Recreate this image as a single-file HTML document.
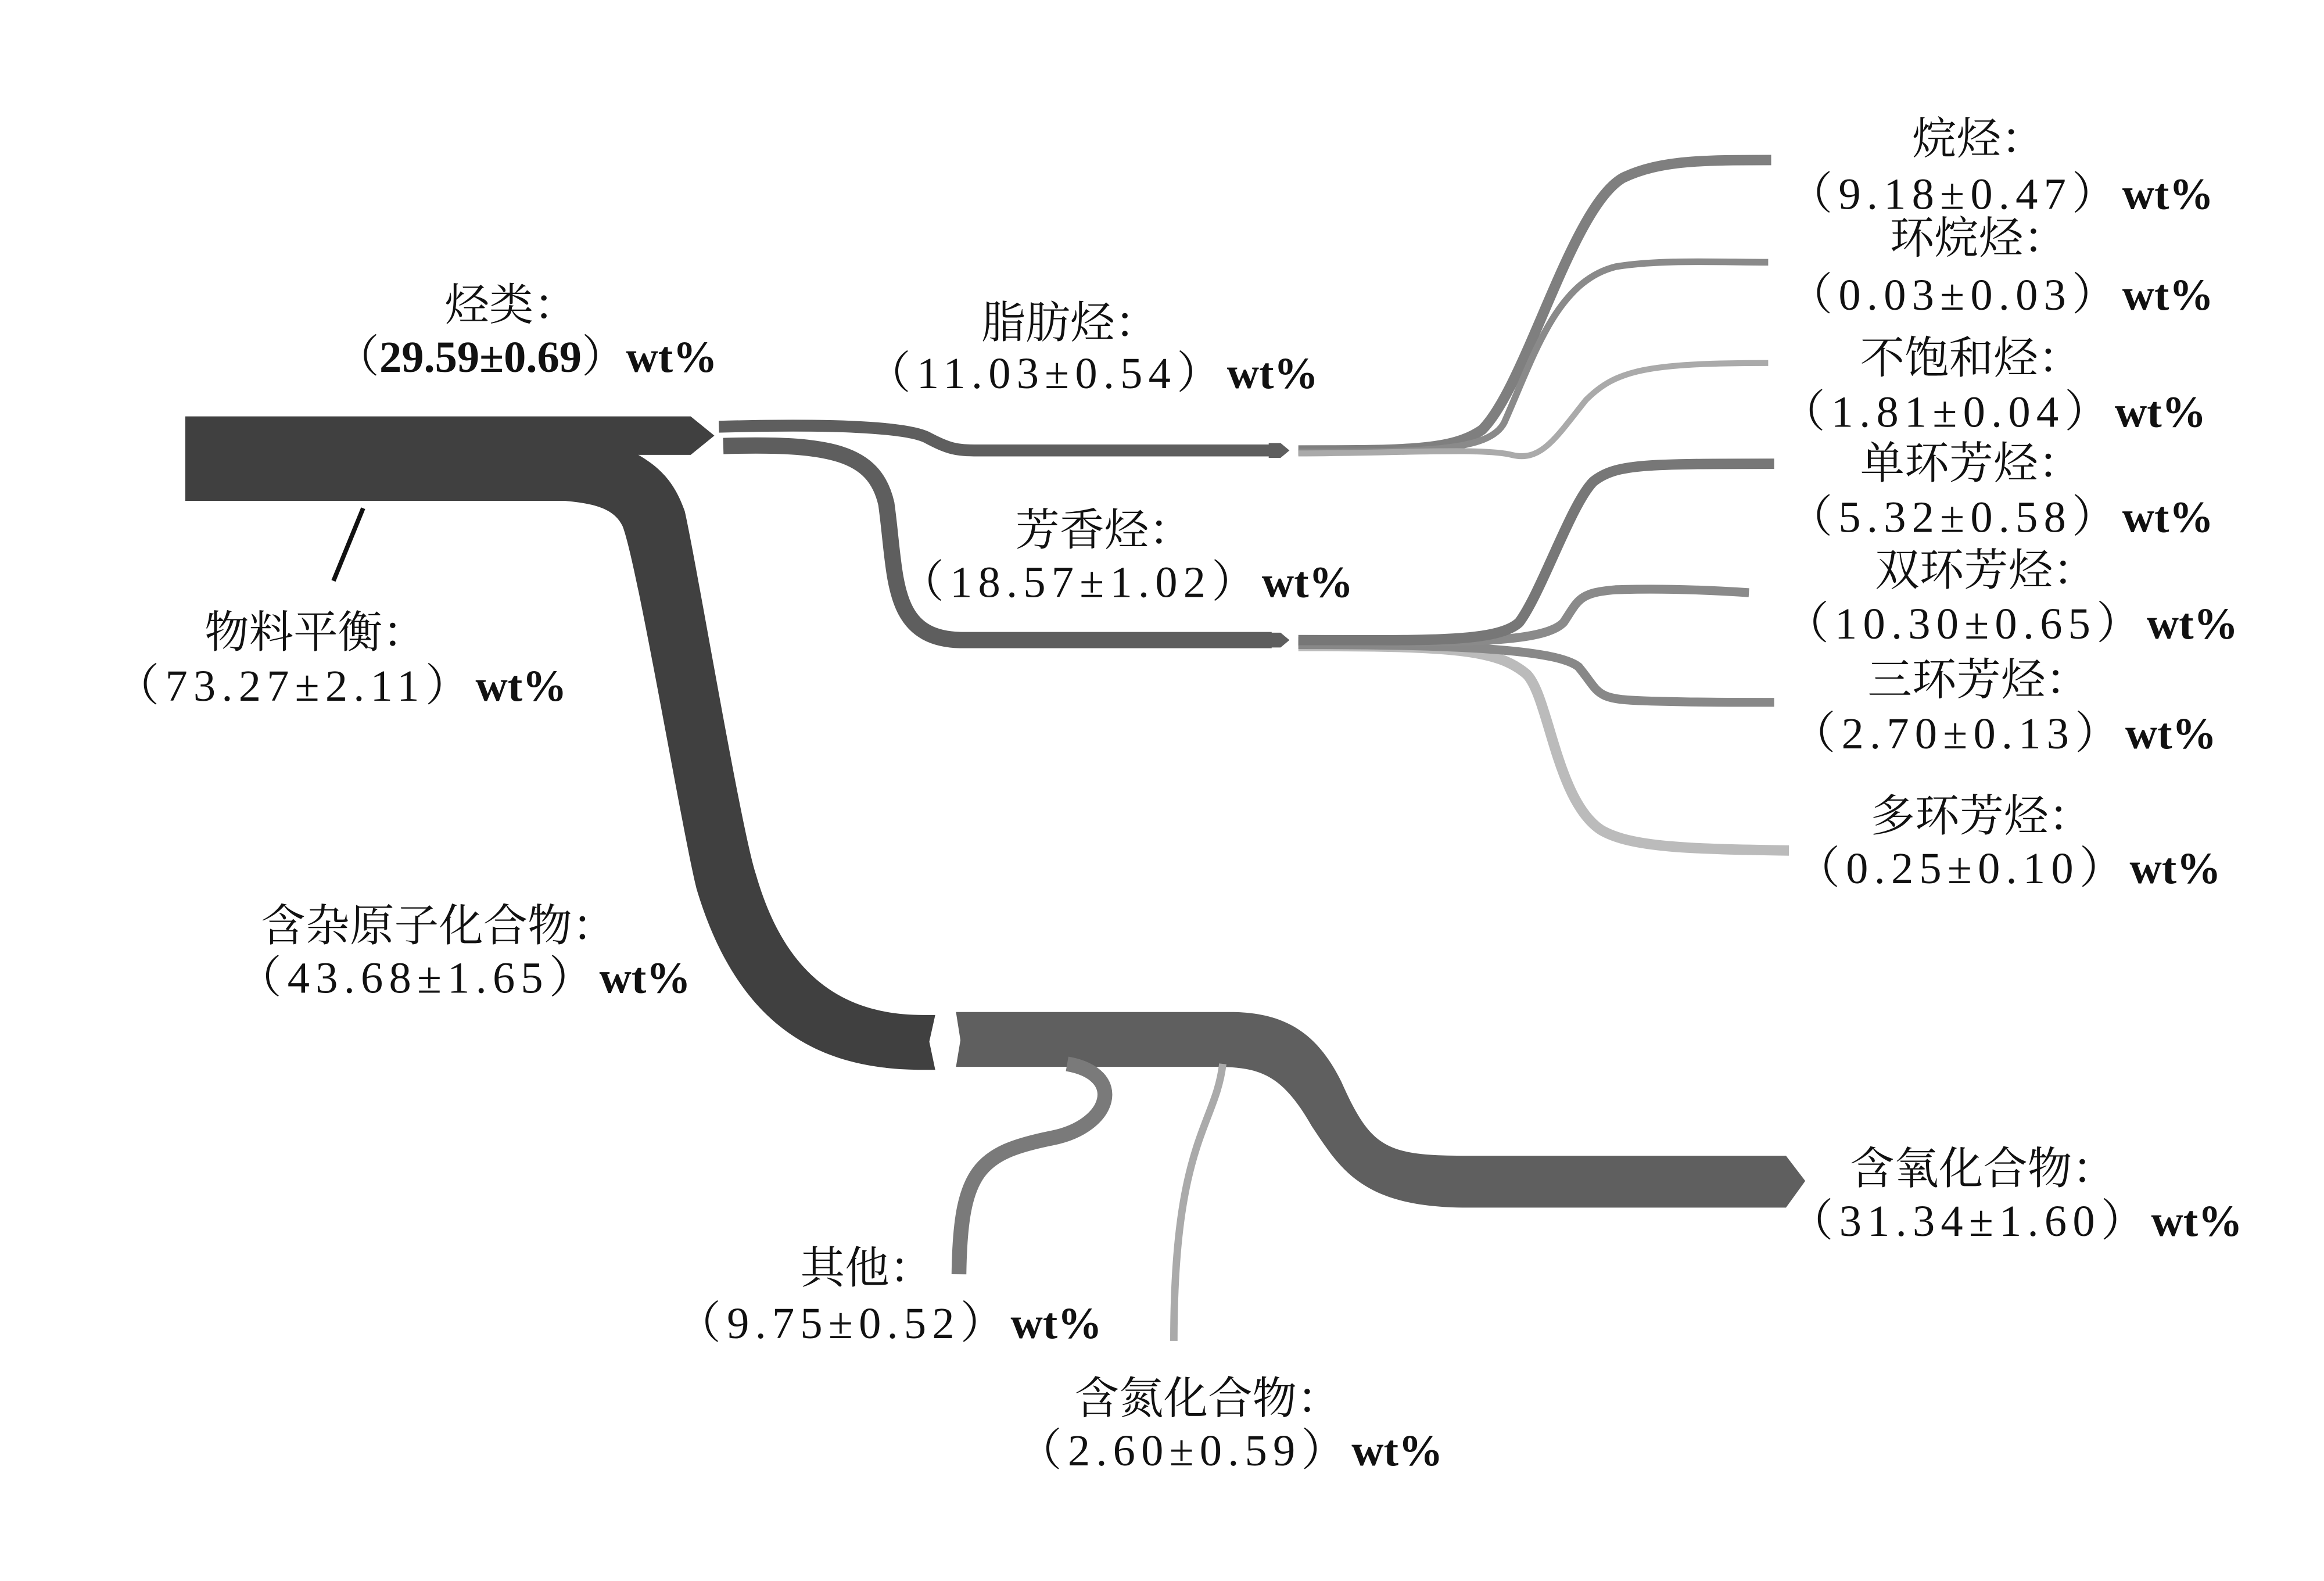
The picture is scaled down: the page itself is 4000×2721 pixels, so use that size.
<!DOCTYPE html>
<html><head><meta charset="utf-8"><style>
html,body{margin:0;padding:0;background:#fff;}
svg{display:block;}
text{font-family:"Liberation Serif","Noto Serif CJK SC",serif;font-size:30px;fill:#111;}
.b{font-weight:bold;font-family:"Liberation Serif",serif;letter-spacing:0;}
.n{letter-spacing:4px;}
</style></head><body>
<svg width="4000" height="2721" viewBox="0 0 1568 1067" preserveAspectRatio="none" xmlns="http://www.w3.org/2000/svg">
<rect width="1568" height="1067" fill="#fff"/>
<path d="M410,307 L429,306 C445,315 455,325 462,345 C470,380 500,560 510,590 C530,660 570,685 623,685 L631,685 L627,703 L631,722 L623,722 C560,722 500,700 470,600 C460,560 430,380 420,355 C415,345 405,340 381,338 Z" fill="#404040"/>
<path d="M125,281 H466 L482,294 L466,307 H420 V338 H125 Z" fill="#404040"/>
<line x1="245" y1="343" x2="225" y2="392" stroke="#111" stroke-width="3"/>
<path d="M645,683 H830 C870,683 890,700 905,730 C925,775 935,780 990,780 H1205 L1218,797 L1205,815 H990 C920,815 905,790 885,760 C865,725 850,720 820,720 H645 L648,702 Z" fill="#5f5f5f"/>
<path d="M720,718 C760,725 750,760 710,768 C660,778 648,790 647,860" fill="none" stroke="#7a7a7a" stroke-width="10"/>
<path d="M825,718 C820,760 792,770 792,905" fill="none" stroke="#aaa" stroke-width="5"/>
<path d="M485,288 C560,286 610,288 625,295 C640,303 645,304 660,304 H858" fill="none" stroke="#5e5e5e" stroke-width="8"/>
<polygon points="856,299 864,299 870,304 864,309 856,309" fill="#5e5e5e"/>
<path d="M488,301 C560,299 590,305 598,340 C605,390 600,432 650,432 H858" fill="none" stroke="#5e5e5e" stroke-width="11"/>
<polygon points="856,427 864,427 870,432 864,437 856,437" fill="#5e5e5e"/>
<path d="M876,304 C950,304 980,304 1000,290 C1030,260 1060,140 1095,120 C1120,108 1150,108 1195,108" fill="none" stroke="#7f7f7f" stroke-width="7"/>
<path d="M876,305 C960,305 1005,305 1015,285 C1035,240 1050,190 1090,180 C1120,175 1160,177 1193,177" fill="none" stroke="#8a8a8a" stroke-width="4.5"/>
<path d="M876,306 C940,306 1000,302 1020,307 C1040,312 1050,295 1070,270 C1090,250 1110,245 1193,245" fill="none" stroke="#aaa" stroke-width="4"/>
<path d="M876,436 C980,436 1010,438 1030,455 C1045,470 1050,540 1080,560 C1100,572 1140,573 1207,574" fill="none" stroke="#bbb" stroke-width="7"/>
<path d="M876,435 C980,435 1050,438 1065,450 C1080,468 1075,472 1110,473 C1140,474 1170,474 1197,474" fill="none" stroke="#888" stroke-width="6"/>
<path d="M876,433 C970,433 1040,436 1055,420 C1065,405 1065,400 1090,398 C1120,397 1150,398 1180,400" fill="none" stroke="#8a8a8a" stroke-width="6"/>
<path d="M876,432 C960,432 1010,434 1025,420 C1040,400 1060,340 1075,325 C1090,313 1110,313 1197,313" fill="none" stroke="#777" stroke-width="7"/>
<g text-anchor="middle">
<text x="345" y="216">烃类：</text>
<text x="355" y="251">（<tspan class="b">29.59±0.69</tspan>）<tspan class="b">wt%</tspan></text>
<text x="722" y="228">脂肪烃：</text>
<text x="737" y="262"><tspan class="n">（11.03±0.54）</tspan><tspan class="b">wt%</tspan></text>
<text x="745" y="368">芳香烃：</text>
<text x="760" y="403"><tspan class="n">（18.57±1.02）</tspan><tspan class="b">wt%</tspan></text>
<text x="213" y="437">物料平衡：</text>
<text x="230" y="473"><tspan class="n">（73.27±2.11）</tspan><tspan class="b">wt%</tspan></text>
<text x="296" y="635">含杂原子化合物：</text>
<text x="313" y="670"><tspan class="n">（43.68±1.65）</tspan><tspan class="b">wt%</tspan></text>
<text x="585" y="866">其他：</text>
<text x="600" y="903"><tspan class="n">（9.75±0.52）</tspan><tspan class="b">wt%</tspan></text>
<text x="815" y="954">含氮化合物：</text>
<text x="830" y="989"><tspan class="n">（2.60±0.59）</tspan><tspan class="b">wt%</tspan></text>
<text x="1338" y="799">含氧化合物：</text>
<text x="1360" y="834"><tspan class="n">（31.34±1.60）</tspan><tspan class="b">wt%</tspan></text>
<text x="1335" y="104">烷烃：</text>
<text x="1350" y="141"><tspan class="n">（9.18±0.47）</tspan><tspan class="b">wt%</tspan></text>
<text x="1335" y="171">环烷烃：</text>
<text x="1350" y="209"><tspan class="n">（0.03±0.03）</tspan><tspan class="b">wt%</tspan></text>
<text x="1330" y="252">不饱和烃：</text>
<text x="1345" y="288"><tspan class="n">（1.81±0.04）</tspan><tspan class="b">wt%</tspan></text>
<text x="1330" y="323">单环芳烃：</text>
<text x="1350" y="359"><tspan class="n">（5.32±0.58）</tspan><tspan class="b">wt%</tspan></text>
<text x="1340" y="395">双环芳烃：</text>
<text x="1357" y="431"><tspan class="n">（10.30±0.65）</tspan><tspan class="b">wt%</tspan></text>
<text x="1335" y="469">三环芳烃：</text>
<text x="1352" y="505"><tspan class="n">（2.70±0.13）</tspan><tspan class="b">wt%</tspan></text>
<text x="1337" y="561">多环芳烃：</text>
<text x="1355" y="596"><tspan class="n">（0.25±0.10）</tspan><tspan class="b">wt%</tspan></text>
</g>
</svg>
</body></html>
